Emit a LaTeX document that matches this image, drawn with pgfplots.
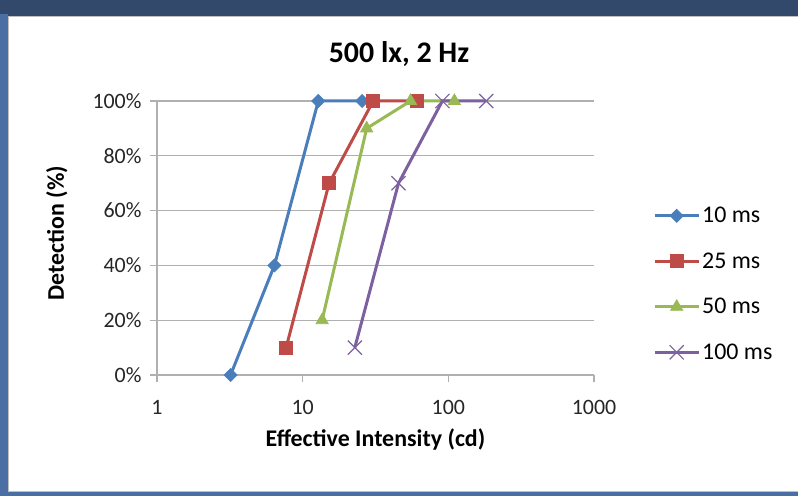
\documentclass[border=0pt]{standalone}
\usepackage{pgfplots}
\pgfplotsset{compat=1.18}
\usepackage{fontspec}
\setmainfont{Carlito}
\definecolor{s1}{HTML}{4A7EBB}
\definecolor{s2}{HTML}{BE4B48}
\definecolor{s3}{HTML}{98B954}
\definecolor{s4}{HTML}{7D60A0}
\definecolor{navy}{HTML}{33496B}
\definecolor{sideblue}{HTML}{4A6FA5}
\definecolor{gridc}{HTML}{B0B0B0}
\begin{document}
\begin{tikzpicture}
\useasboundingbox (0,0) rectangle (798bp,496bp);
\fill[navy] (0,0) rectangle (798bp,496bp);
\fill[sideblue] (0,0) rectangle (8bp,482bp);
\fill[sideblue] (0,0) rectangle (798bp,4bp);
\filldraw[fill=white,draw=black!25,line width=1bp] (8bp,4bp) rectangle (798bp,479bp);
\node[font=\fontsize{30}{34}\selectfont\bfseries] at (399bp,442bp) {500 lx, 2 Hz};
\begin{axis}[
  at={(157bp,121bp)}, anchor=south west,
  scale only axis, width=437bp, height=274bp,
  xmode=log, xmin=1, xmax=1000, ymin=0, ymax=100,
  xtick={1,10,100,1000}, xticklabels={1,10,100,1000}, xminorticks=false,
  ytick={0,20,...,100},
  yticklabel={\pgfmathprintnumber{\tick}\%},
  /pgf/number format/assume math mode=true,
  axis x line*=bottom, axis y line*=left,
  axis line style={gridc, line width=1.3bp},
  tick style={gridc, line width=1.3bp},
  tick align=outside, major tick length=7bp,
  ymajorgrids, grid style={gridc, line width=1.3bp},
  ticklabel style={font=\fontsize{22}{25}\selectfont, text=black!85},
  xticklabel style={yshift=-15bp},
  yticklabel style={xshift=-5bp},
  xlabel={Effective Intensity (cd)},
  ylabel={Detection (\%)},
  label style={font=\fontsize{24}{28}\selectfont\bfseries},
  xlabel style={at={(axis description cs:0.5,-0.235)}, anchor=center},
  ylabel style={at={(axis description cs:-0.229,0.518)}, anchor=center, rotate=0},
  clip=false,
  legend cell align=left,
  legend style={at={(1.135,0.62)}, anchor=north west, draw=none, fill=none,
    font=\fontsize{24}{28}\selectfont, row sep=24.5bp, inner sep=0pt},
  legend image code/.code={\draw[mark repeat=2, mark phase=2] plot coordinates {(0bp,0bp) (22bp,0bp) (44bp,0bp)};},
]
\addplot[s1, line width=3bp, mark=square*, mark size=4.6bp, mark options={solid, rotate=45, line width=0.8bp}]
  coordinates {(3.2,0) (6.4,40) (12.8,100) (25.6,100)};
\addlegendentry{10 ms}
\addplot[s2, line width=3bp, mark=square*, mark size=6.5bp, mark options={solid, line width=0.8bp}]
  coordinates {(7.7,10) (15.2,70) (30.5,100) (61,100)};
\addlegendentry{25 ms}
\addplot[s3, line width=3bp, mark=triangle*, mark size=7bp, mark options={solid, line width=0.8bp}]
  coordinates {(13.6,20) (27.5,90) (55,100) (110,100)};
\addlegendentry{50 ms}
\addplot[s4, line width=3bp, mark=x, mark size=10bp, mark options={solid, line width=1.2bp}]
  coordinates {(22.8,10) (45.5,70) (91,100) (182,100)};
\addlegendentry{100 ms}
\end{axis}
\end{tikzpicture}
\end{document}
